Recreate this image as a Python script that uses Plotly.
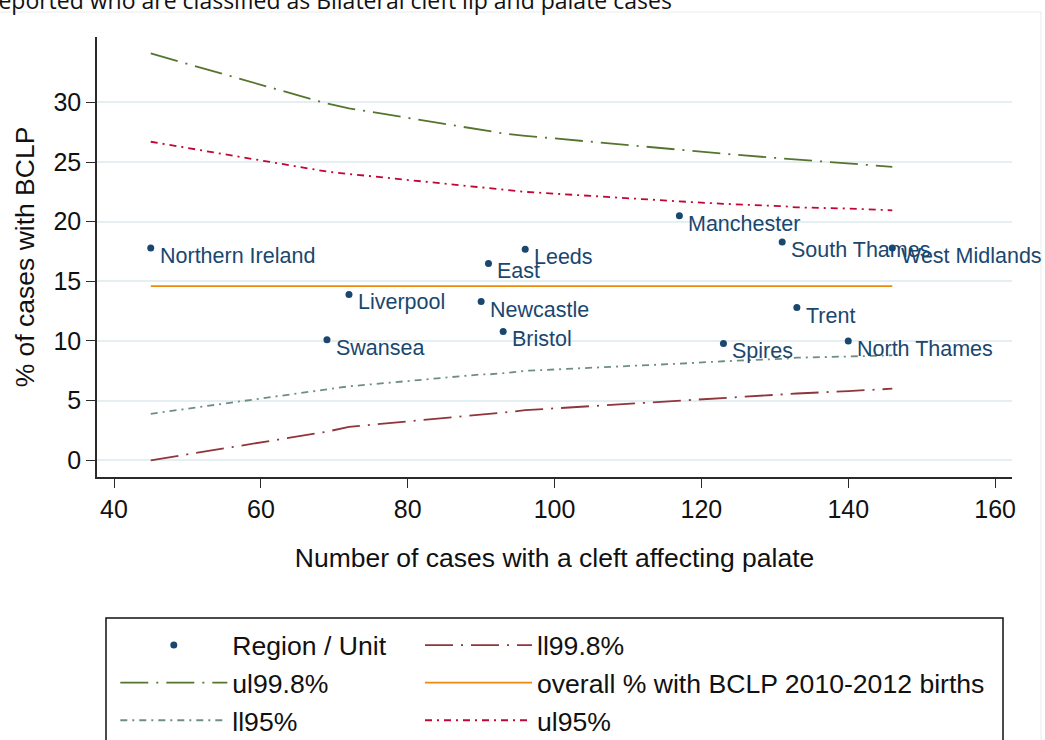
import plotly.graph_objects as go

# Cleft units: number of cases with a cleft affecting the palate and % that are BCLP
units = ["Northern Ireland", "Swansea", "Liverpool", "Newcastle", "East", "Bristol",
         "Leeds", "Manchester", "Spires", "South Thames", "Trent", "North Thames",
         "West Midlands"]
n_cases = [45, 69, 72, 90, 91, 93, 96, 117, 123, 131, 133, 140, 146]
pct_bclp = [17.8, 10.1, 13.9, 13.3, 16.5, 10.8, 17.7, 20.5, 9.8, 18.3, 12.8, 10.0, 17.8]

# Overall % with BCLP, 2010-2012 births
overall_pct = 14.6

# Funnel control limits evaluated at each unit's case count
ul998 = [34.1, 29.9, 29.5, 27.7, 27.6, 27.4, 27.2, 26.0, 25.7, 25.3, 25.2, 24.9, 24.6]
ll998 = [0.0, 2.4, 2.8, 3.8, 3.9, 4.0, 4.2, 5.0, 5.2, 5.5, 5.6, 5.8, 6.0]
ul95 = [26.7, 24.2, 24.0, 22.9, 22.8, 22.7, 22.5, 21.7, 21.5, 21.3, 21.2, 21.1, 20.95]
ll95 = [3.9, 6.0, 6.2, 7.2, 7.2, 7.3, 7.5, 8.1, 8.3, 8.5, 8.6, 8.7, 8.8]

x_ticks = [40, 60, 80, 100, 120, 140, 160]
y_ticks = [0, 5, 10, 15, 20, 25, 30]

NAVY = "#1a476f"
GREEN = "#55752f"
MAROON = "#90353b"
ORANGE = "#ec8a0e"
TEAL = "#6e8e84"
CRIMSON = "#c10534"
FONT = "Liberation Sans, Arial, sans-serif"

LONG_DASH_DOT = "28px,8px,2px,8px"
SHORT_DASH_DOT = "7px,5px,2px,5px"

fig = go.Figure()

fig.add_trace(go.Scatter(
    x=n_cases, y=pct_bclp, mode="markers", name="Region / Unit",
    marker=dict(color=NAVY, size=7), legend="legend", cliponaxis=False))
fig.add_trace(go.Scatter(
    x=n_cases, y=ll998, mode="lines", name="ll99.8%",
    line=dict(color=MAROON, width=1.8, dash=LONG_DASH_DOT), legend="legend2"))
fig.add_trace(go.Scatter(
    x=n_cases, y=ul998, mode="lines", name="ul99.8%",
    line=dict(color=GREEN, width=1.8, dash=LONG_DASH_DOT), legend="legend"))
fig.add_trace(go.Scatter(
    x=n_cases, y=[overall_pct] * len(n_cases), mode="lines",
    name="overall % with BCLP 2010-2012 births",
    line=dict(color=ORANGE, width=1.8), legend="legend2"))
fig.add_trace(go.Scatter(
    x=n_cases, y=ll95, mode="lines", name="ll95%",
    line=dict(color=TEAL, width=1.8, dash=SHORT_DASH_DOT), legend="legend"))
fig.add_trace(go.Scatter(
    x=n_cases, y=ul95, mode="lines", name="ul95%",
    line=dict(color=CRIMSON, width=1.8, dash=SHORT_DASH_DOT), legend="legend2"))

# Unit labels to the right of each marker
for name, xv, yv in zip(units, n_cases, pct_bclp):
    fig.add_annotation(
        x=xv, y=yv, text=name, showarrow=False, xanchor="left", yanchor="middle",
        xshift=7, yshift=-8, font=dict(family=FONT, size=21.5, color=NAVY))

# Figure heading (runs past the left edge of the page)
fig.add_annotation(
    xref="paper", yref="paper", x=-0.1205, y=1.085, xanchor="left", yanchor="middle",
    text="reported who are classified as Bilateral cleft lip and palate cases",
    showarrow=False, font=dict(family="Open Sans, sans-serif", size=23, color="#111111"))

legend_font = dict(family=FONT, size=26.6, color="#111111")
title_font = dict(family=FONT, size=26.5, color="#111111")
axis_common = dict(
    showline=True, linecolor="#2a2a2a", linewidth=1.5,
    ticks="outside", ticklen=9, tickwidth=1.3, tickcolor="#2a2a2a",
    tickfont=dict(family=FONT, size=25, color="#111111"),
    zeroline=False,
)

fig.update_layout(
    width=1045, height=740,
    margin=dict(l=97, r=33, t=37, b=263, autoexpand=False),
    paper_bgcolor="white", plot_bgcolor="white",
    xaxis=dict(
        range=[37.68, 162.3], tickvals=x_ticks, showgrid=False,
        title=dict(text="Number of cases with a cleft affecting palate",
                   font=title_font, standoff=27),
        **axis_common),
    yaxis=dict(
        range=[-1.4, 35.48], tickvals=y_ticks, showgrid=True,
        gridcolor="#e5eef1", gridwidth=2,
        title=dict(text="% of cases with BCLP", font=title_font, standoff=11),
        **axis_common),
    legend=dict(x=0.02, y=-0.328, xanchor="left", yanchor="top",
                font=legend_font, itemwidth=107, bgcolor="rgba(0,0,0,0)",
                tracegroupgap=0),
    legend2=dict(x=0.353, y=-0.328, xanchor="left", yanchor="top",
                 font=legend_font, itemwidth=107, bgcolor="rgba(0,0,0,0)",
                 tracegroupgap=0),
    shapes=[
        # legend frame
        dict(type="rect", xref="paper", yref="paper",
             x0=(106 - 97) / 915, x1=(1003 - 97) / 915,
             y0=(477 - 618) / 440, y1=(477 - 760) / 440,
             line=dict(color="#111111", width=1.5), fillcolor="rgba(0,0,0,0)"),
        # outer graph region edges
        dict(type="line", xref="paper", yref="paper",
             x0=(-5 - 97) / 915, x1=(1041 - 97) / 915,
             y0=(477 - 12) / 440, y1=(477 - 12) / 440,
             line=dict(color="#ebebeb", width=1)),
        dict(type="line", xref="paper", yref="paper",
             x0=(1041 - 97) / 915, x1=(1041 - 97) / 915,
             y0=(477 - 12) / 440, y1=(477 - 760) / 440,
             line=dict(color="#ebebeb", width=1)),
    ],
)

fig.write_html("out.html")
